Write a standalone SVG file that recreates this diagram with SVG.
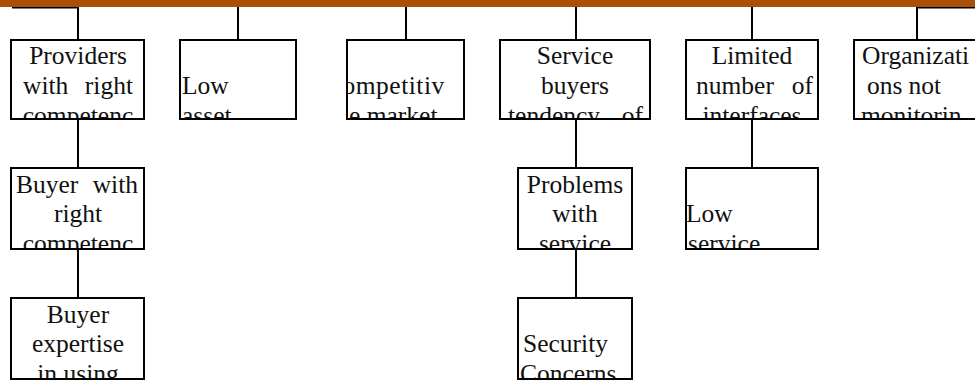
<svg xmlns="http://www.w3.org/2000/svg" width="975" height="383" viewBox="0 0 975 383">
  <style>
    .box { fill: #ffffff; stroke: #000000; stroke-width: 2; }
    .conn { fill: none; stroke: #000000; stroke-width: 2; }
    .lbl { font-family: "Liberation Serif", "Times New Roman", serif; font-size: 25.5px; fill: #111111; }
    .c { text-anchor: middle; }
    .e { text-anchor: end; }
  </style>
  <defs>
    <clipPath id="k1"><rect x="12" y="41" width="131" height="77"/></clipPath>
    <clipPath id="k2"><rect x="181" y="41" width="114" height="77"/></clipPath>
    <clipPath id="k3"><rect x="348" y="41" width="115" height="77"/></clipPath>
    <clipPath id="k4"><rect x="501" y="41" width="148" height="77"/></clipPath>
    <clipPath id="k5"><rect x="687" y="41" width="130" height="77"/></clipPath>
    <clipPath id="k6"><rect x="855" y="41" width="131" height="77"/></clipPath>
    <clipPath id="k7"><rect x="12" y="169" width="131" height="79"/></clipPath>
    <clipPath id="k8"><rect x="519" y="169" width="112" height="79"/></clipPath>
    <clipPath id="k9"><rect x="687" y="169" width="130" height="79"/></clipPath>
    <clipPath id="k10"><rect x="12" y="299" width="131" height="79"/></clipPath>
    <clipPath id="k11"><rect x="519" y="299" width="112" height="79"/></clipPath>
  </defs>

  <!-- connectors -->
  <g id="connectors">
    <path class="conn" d="M12,7.5 H78 V40"/>
    <path class="conn" d="M238,7 V40"/>
    <path class="conn" d="M406,7 V40"/>
    <path class="conn" d="M576,7 V40"/>
    <path class="conn" d="M752,7 V40"/>
    <path class="conn" d="M975,7.5 H917 V40"/>
    <path class="conn" d="M78,119 V168"/>
    <path class="conn" d="M78,249 V298"/>
    <path class="conn" d="M576,119 V168"/>
    <path class="conn" d="M576,249 V298"/>
    <path class="conn" d="M752,119 V168"/>
  </g>

  <!-- top band -->
  <rect x="0" y="0" width="975" height="7" fill="#a84f09"/>

  <g id="providers">
    <rect class="box" x="11" y="40" width="133" height="79"/>
    <g clip-path="url(#k1)">
      <text class="lbl c" x="78" y="64">Providers</text>
      <text class="lbl" y="94"><tspan x="23">with</tspan><tspan x="133" text-anchor="end">right</tspan></text>
      <text class="lbl c" x="78" y="124">competenc</text>
    </g>
  </g>

  <g id="low-asset">
    <rect class="box" x="180" y="40" width="116" height="79"/>
    <g clip-path="url(#k2)">
      <text class="lbl" x="182" y="94">Low</text>
      <text class="lbl" x="182" y="124">asset</text>
    </g>
  </g>

  <g id="competitive-market">
    <rect class="box" x="347" y="40" width="117" height="79"/>
    <g clip-path="url(#k3)">
      <text class="lbl" x="325" y="94" letter-spacing="0.5">Competitiv</text>
      <text class="lbl" x="349" y="124">e market</text>
    </g>
  </g>

  <g id="service-buyers">
    <rect class="box" x="500" y="40" width="150" height="79"/>
    <g clip-path="url(#k4)">
      <text class="lbl c" x="575" y="64">Service</text>
      <text class="lbl c" x="575" y="94">buyers</text>
      <text class="lbl" y="124"><tspan x="508">tendency</tspan><tspan x="643" text-anchor="end">of</tspan></text>
    </g>
  </g>

  <g id="limited-interfaces">
    <rect class="box" x="686" y="40" width="132" height="79"/>
    <g clip-path="url(#k5)">
      <text class="lbl c" x="752" y="64">Limited</text>
      <text class="lbl" y="94"><tspan x="696">number</tspan><tspan x="813" text-anchor="end">of</tspan></text>
      <text class="lbl c" x="752" y="124">interfaces</text>
    </g>
  </g>

  <g id="organizations">
    <rect class="box" x="854" y="40" width="133" height="79"/>
    <g clip-path="url(#k6)">
      <text class="lbl" x="862" y="64">Organizati</text>
      <text class="lbl" y="94"><tspan x="867">ons</tspan><tspan x="941" text-anchor="end">not</tspan></text>
      <text class="lbl" x="861" y="124">monitorin</text>
    </g>
  </g>

  <g id="buyer-competence">
    <rect class="box" x="11" y="168" width="133" height="81"/>
    <g clip-path="url(#k7)">
      <text class="lbl" y="193"><tspan x="16">Buyer</tspan><tspan x="138" text-anchor="end">with</tspan></text>
      <text class="lbl c" x="78" y="222">right</text>
      <text class="lbl c" x="78" y="252">competenc</text>
    </g>
  </g>

  <g id="service-problems">
    <rect class="box" x="518" y="168" width="114" height="81"/>
    <g clip-path="url(#k8)">
      <text class="lbl c" x="575" y="193">Problems</text>
      <text class="lbl c" x="575" y="222">with</text>
      <text class="lbl c" x="575" y="252">service</text>
    </g>
  </g>

  <g id="low-service">
    <rect class="box" x="686" y="168" width="132" height="81"/>
    <g clip-path="url(#k9)">
      <text class="lbl" x="686" y="222">Low</text>
      <text class="lbl" x="688" y="252">service</text>
    </g>
  </g>

  <g id="buyer-expertise">
    <rect class="box" x="11" y="298" width="133" height="81"/>
    <g clip-path="url(#k10)">
      <text class="lbl c" x="78" y="323">Buyer</text>
      <text class="lbl c" x="78" y="352">expertise</text>
      <text class="lbl c" x="78" y="382">in using</text>
    </g>
  </g>

  <g id="security-concerns">
    <rect class="box" x="518" y="298" width="114" height="81"/>
    <g clip-path="url(#k11)">
      <text class="lbl" x="523" y="352">Security</text>
      <text class="lbl" x="520" y="382">Concerns</text>
    </g>
  </g>
</svg>
